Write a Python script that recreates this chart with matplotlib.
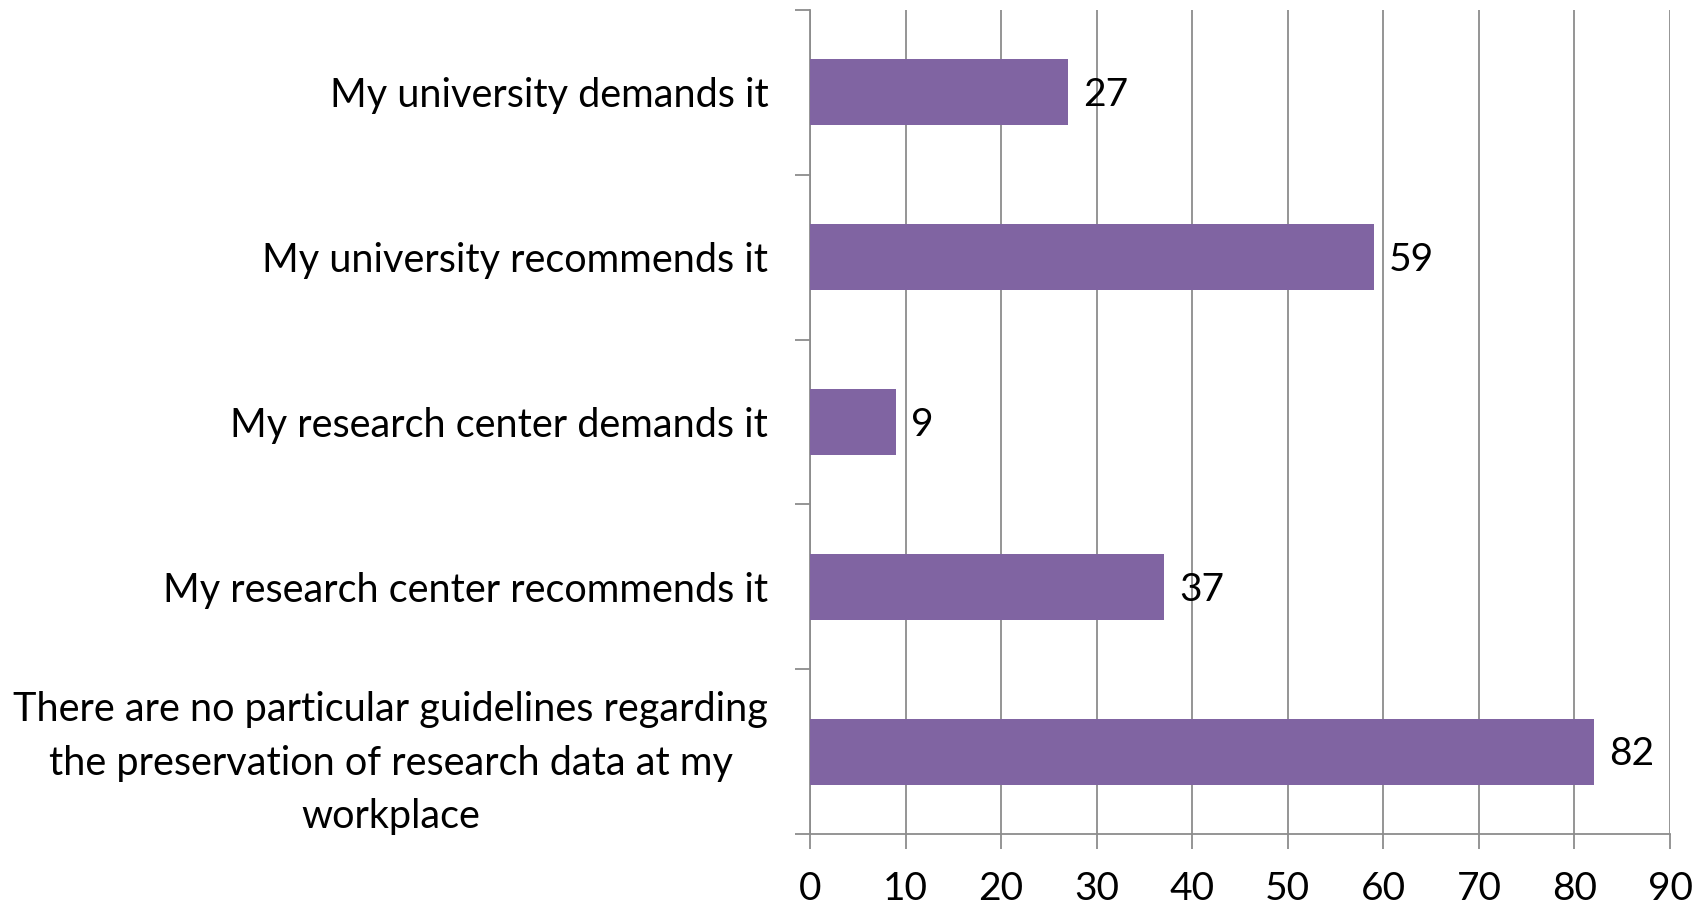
import matplotlib
matplotlib.use("Agg")
import matplotlib.pyplot as plt
import numpy as np

plt.rcParams['font.family'] = ['Lato', 'DejaVu Sans']

# data
categories = [
    "My university demands it",
    "My university recommends it",
    "My research center demands it",
    "My research center recommends it",
    "There are no particular guidelines regarding\nthe preservation of research data at my\nworkplace",
]
values = [27, 59, 9, 37, 82]
x_ticks = [0, 10, 20, 30, 40, 50, 60, 70, 80, 90]

bar_color = "#8064A2"
grid_color = "#8C8C8C"

fig = plt.figure(figsize=(17.07, 9.09), dpi=100)
ax = fig.add_axes([810 / 1707, 1 - 834 / 909, 860 / 1707, 824 / 909])

y = np.arange(len(categories))
ax.barh(y, values, height=0.4, color=bar_color, zorder=3)

for yi, v in zip(y, values):
    ax.annotate(str(v), xy=(v, yi), xytext=(11, -2), textcoords="offset points",
                ha="left", va="center", fontsize=28, color="black", zorder=4)

ax.set_xlim(0, 90)
ax.set_ylim(len(categories) - 0.5, -0.5)
ax.set_xticks(x_ticks)
ax.set_xticklabels([str(t) for t in x_ticks], fontsize=28)
ax.grid(axis="x", color=grid_color, linewidth=1.3, zorder=0)

# category labels, ticks drawn at the boundaries
ax.set_yticks(y)
ax.set_yticklabels(categories, fontsize=28.5, multialignment="center", linespacing=1.55)
ax.set_yticks(np.arange(-0.5, len(categories), 1), minor=True)
ax.tick_params(axis="y", which="major", length=0, pad=30)
ax.tick_params(axis="y", which="minor", length=11, width=1.3, color=grid_color, direction="out")
ax.tick_params(axis="x", length=11, width=1.3, color=grid_color, direction="out", pad=16)

for side in ["top", "right"]:
    ax.spines[side].set_visible(False)
for side in ["left", "bottom"]:
    ax.spines[side].set_color(grid_color)
    ax.spines[side].set_linewidth(1.3)

fig.savefig("out.png", dpi=100)
